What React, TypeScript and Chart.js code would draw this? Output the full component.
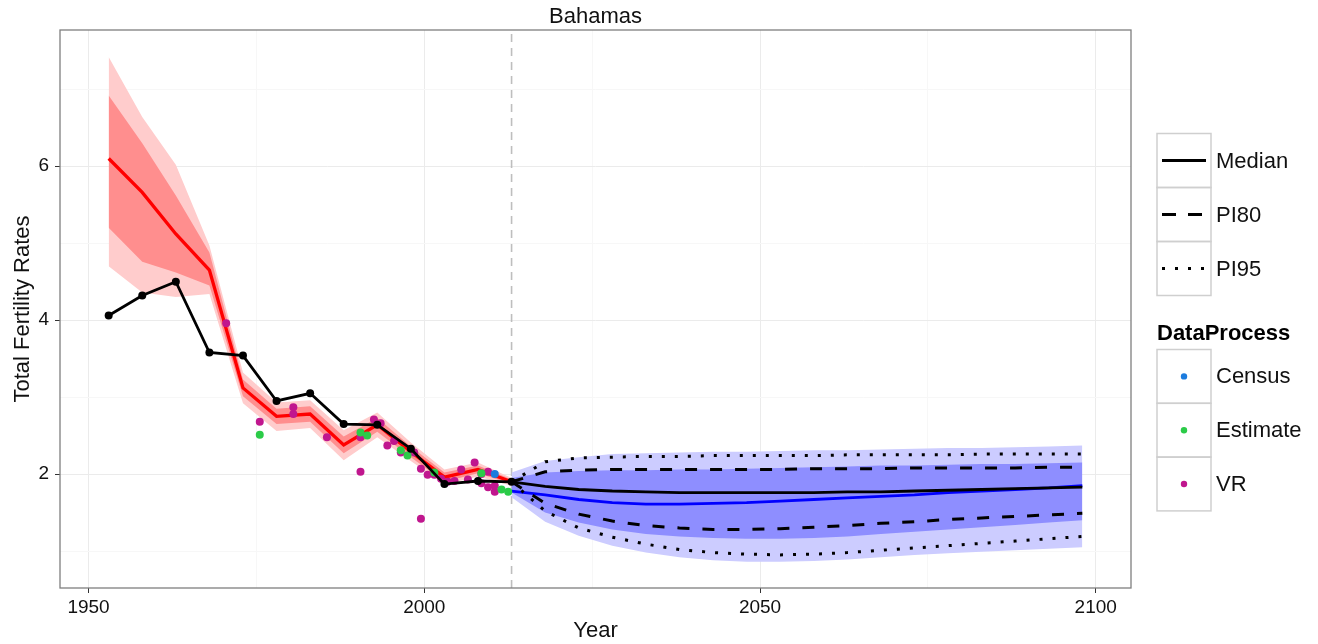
import React, { useEffect, useRef } from "react";
import { Chart, registerables } from "chart.js";

Chart.register(...registerables);

// ---------- data ----------
const TITLE = "Bahamas";
const X_TITLE = "Year";
const Y_TITLE = "Total Fertility Rates";

const X_TICKS = [1950, 1975, 2000, 2025, 2050, 2075, 2100];
const X_MAJOR = [1950, 2000, 2050, 2100];
const Y_TICKS = [1, 2, 3, 4, 5, 6, 7];
const Y_MAJOR = [2, 4, 6];
const X_MIN = 1945.75;
const X_MAX = 2105.25;
const Y_MIN = 0.52;
const Y_MAX = 7.77;
const PRESENT_YEAR = 2013;

const EST_YEARS = [1953, 1958, 1963, 1968, 1973, 1978, 1983, 1988, 1993, 1998, 2003, 2008, 2013];
const OBS_TFR = [4.06, 4.32, 4.5, 3.58, 3.54, 2.95, 3.05, 2.65, 2.64, 2.33, 1.87, 1.91, 1.9];
const RED_MEDIAN = [6.1, 5.66, 5.12, 4.65, 3.12, 2.75, 2.78, 2.38, 2.64, 2.29, 1.96, 2.06, 1.9];
const RED_U95 = [7.42, 6.64, 6.02, 4.97, 3.32, 2.93, 2.96, 2.57, 2.8, 2.41, 2.06, 2.15, 1.95];
const RED_U80 = [6.92, 6.3, 5.62, 4.88, 3.23, 2.85, 2.88, 2.49, 2.73, 2.36, 2.02, 2.11, 1.93];
const RED_L80 = [5.2, 4.76, 4.62, 4.45, 3.01, 2.65, 2.68, 2.27, 2.55, 2.22, 1.9, 2.01, 1.87];
const RED_L95 = [4.7, 4.36, 4.3, 4.34, 2.92, 2.56, 2.6, 2.18, 2.48, 2.17, 1.86, 1.97, 1.85];

const PROJ_YEARS = [2013, 2018, 2023, 2028, 2033, 2038, 2043, 2048, 2053, 2058, 2063, 2068, 2073, 2078, 2083, 2088, 2093, 2098];
const PROJ_MEDIAN = [1.9, 1.84, 1.8, 1.78, 1.77, 1.76, 1.76, 1.76, 1.76, 1.76, 1.77, 1.77, 1.78, 1.79, 1.8, 1.81, 1.82, 1.83];
const PI80_UP = [1.9, 2.03, 2.05, 2.06, 2.06, 2.06, 2.06, 2.06, 2.06, 2.07, 2.07, 2.07, 2.08, 2.08, 2.08, 2.08, 2.09, 2.09];
const PI80_LOW = [1.9, 1.62, 1.48, 1.39, 1.33, 1.3, 1.28, 1.28, 1.29, 1.31, 1.33, 1.36, 1.38, 1.41, 1.43, 1.45, 1.47, 1.49];
const PI95_UP = [1.9, 2.16, 2.21, 2.22, 2.23, 2.23, 2.24, 2.24, 2.24, 2.24, 2.25, 2.25, 2.25, 2.25, 2.26, 2.26, 2.26, 2.26];
const PI95_LOW = [1.9, 1.52, 1.3, 1.18, 1.09, 1.02, 0.98, 0.96, 0.95, 0.96, 0.98, 1.01, 1.04, 1.07, 1.1, 1.13, 1.16, 1.19];
const BLUE_MEDIAN = [1.78, 1.73, 1.67, 1.63, 1.61, 1.61, 1.62, 1.63, 1.65, 1.67, 1.69, 1.71, 1.73, 1.76, 1.78, 1.8, 1.82, 1.85];
const BLUE_U95 = [2.02, 2.17, 2.22, 2.26, 2.27, 2.28, 2.29, 2.29, 2.3, 2.31, 2.31, 2.32, 2.33, 2.34, 2.34, 2.35, 2.36, 2.37];
const BLUE_U80 = [1.95, 2.02, 2.04, 2.05, 2.05, 2.06, 2.06, 2.07, 2.08, 2.09, 2.1, 2.11, 2.11, 2.12, 2.13, 2.13, 2.14, 2.15];
const BLUE_L80 = [1.76, 1.5, 1.37, 1.28, 1.22, 1.19, 1.17, 1.16, 1.16, 1.17, 1.19, 1.22, 1.25, 1.28, 1.31, 1.34, 1.37, 1.4];
const BLUE_L95 = [1.7, 1.38, 1.2, 1.07, 0.98, 0.92, 0.88, 0.86, 0.86, 0.87, 0.89, 0.92, 0.95, 0.97, 0.99, 1.01, 1.03, 1.05];

const CENSUS_YEARS = [2010.5];
const CENSUS_TFR = [2.0];
const ESTIMATE_YEARS = [1975.5, 1990.5, 1991.5, 1996.5, 1997.5, 2001.5, 2008.5, 2011.5, 2012.5];
const ESTIMATE_TFR = [2.51, 2.54, 2.5, 2.31, 2.24, 2.02, 2.01, 1.8, 1.77];
const VR_YEARS = [1970.5, 1975.5, 1980.5, 1980.5, 1985.5, 1990.5, 1990.5, 1992.5, 1993.5, 1994.5, 1995.5, 1996.5, 1998.5, 1999.5, 1999.5, 2000.5, 2001.5, 2002.5, 2003.5, 2004.5, 2005.5, 2006.5, 2007.5, 2008.5, 2008.5, 2009.5, 2009.5, 2010.5, 2010.5];
const VR_TFR = [3.96, 2.68, 2.87, 2.78, 2.48, 2.48, 2.03, 2.71, 2.66, 2.37, 2.43, 2.28, 2.28, 2.07, 1.42, 1.99, 1.99, 1.94, 1.9, 1.91, 2.06, 1.93, 2.15, 1.88, 2.0, 2.03, 1.83, 1.77, 1.85];

const LINE_LEGEND = ["Median", "PI80", "PI95"];
const PROCESS_TITLE = "DataProcess";
const PROCESS_LEGEND = ["Census", "Estimate", "VR"];

// ---------- styles ----------
const FONT = "'Liberation Sans', Arial, Helvetica, sans-serif";
const C_CENSUS = "#1C7CDE";
const C_ESTIMATE = "#2BCB48";
const C_VR = "#C0168E";
const PROCESS_COLORS = [C_CENSUS, C_ESTIMATE, C_VR];
const DOT_DASH = [3, 10];
const DASH_DASH = [12, 13];

const pts = (xs: number[], ys: number[]) => xs.map((x, i) => ({ x, y: ys[i] }));

const lineDs = (data: any[], color: string, width: number, order: number, dash: number[] = []) => ({
  data,
  borderColor: color,
  borderWidth: width,
  borderDash: dash,
  borderCapStyle: "butt",
  pointRadius: 0,
  fill: false,
  tension: 0,
  order,
});

const bandDs = (data: any[], fillColor: string, order: number, fillNext: boolean) => ({
  data,
  borderWidth: 0,
  borderColor: "rgba(0,0,0,0)",
  backgroundColor: fillColor,
  pointRadius: 0,
  fill: fillNext ? "+1" : false,
  tension: 0,
  order,
});

const dotDs = (data: any[], color: string, order: number) => ({
  data,
  showLine: false,
  pointRadius: 4,
  pointBorderWidth: 0,
  pointBackgroundColor: color,
  pointBorderColor: color,
  backgroundColor: color,
  borderColor: color,
  order,
});

const decorPlugin = {
  id: "decor",
  afterDraw(chart: any) {
    const { ctx, chartArea } = chart;
    const { left, right, top, bottom } = chartArea;
    ctx.save();
    // panel border
    ctx.strokeStyle = "#7F7F7F";
    ctx.lineWidth = 1.3;
    ctx.setLineDash([]);
    ctx.strokeRect(left, top, right - left, bottom - top);
    // title
    ctx.fillStyle = "#111";
    ctx.font = `22px ${FONT}`;
    ctx.textAlign = "center";
    ctx.textBaseline = "middle";
    ctx.fillText(TITLE, (left + right) / 2, 17);

    // legend: line types
    const lx = 1157;
    const bw = 54;
    const bh = 54;
    const textX = 1216;
    let y0 = 133.5;
    ctx.textAlign = "left";
    LINE_LEGEND.forEach((label, i) => {
      const by = y0 + i * bh;
      ctx.strokeStyle = "#CFCFCF";
      ctx.lineWidth = 1.5;
      ctx.setLineDash([]);
      ctx.strokeRect(lx, by, bw, bh);
      ctx.strokeStyle = "#000";
      ctx.lineWidth = 3;
      ctx.lineCap = "butt";
      ctx.setLineDash(i === 0 ? [] : i === 1 ? [14, 12] : DOT_DASH);
      ctx.beginPath();
      ctx.moveTo(lx + 5, by + bh / 2);
      ctx.lineTo(lx + bw - 5, by + bh / 2);
      ctx.stroke();
      ctx.setLineDash([]);
      ctx.fillStyle = "#111";
      ctx.font = `22px ${FONT}`;
      ctx.fillText(label, textX, by + bh / 2 + 1);
    });

    // legend: data process
    ctx.fillStyle = "#000";
    ctx.font = `bold 22px ${FONT}`;
    ctx.fillText(PROCESS_TITLE, lx, 334);
    const y1 = 349.5;
    const bh2 = 53.8;
    PROCESS_LEGEND.forEach((label, i) => {
      const by = y1 + i * bh2;
      ctx.strokeStyle = "#CFCFCF";
      ctx.lineWidth = 1.5;
      ctx.strokeRect(lx, by, bw, bh2);
      ctx.fillStyle = PROCESS_COLORS[i];
      ctx.beginPath();
      ctx.arc(lx + bw / 2, by + bh2 / 2, 3.2, 0, Math.PI * 2);
      ctx.fill();
      ctx.fillStyle = "#111";
      ctx.font = `22px ${FONT}`;
      ctx.fillText(label, textX, by + bh2 / 2 + 1);
    });
    ctx.restore();
  },
};

export default function App() {
  const ref = useRef<HTMLCanvasElement | null>(null);

  useEffect(() => {
    if (!ref.current) return;
    Chart.defaults.font.family = FONT;

    const datasets: any[] = [
      // vertical present-year line
      lineDs([{ x: PRESENT_YEAR, y: Y_MIN }, { x: PRESENT_YEAR, y: Y_MAX }], "#BEBEBE", 1.6, 100, [8, 6]),
      // red bands
      bandDs(pts(EST_YEARS, RED_U95), "#FFCCCC", 90, true),
      bandDs(pts(EST_YEARS, RED_L95), "#FFCCCC", 91, false),
      bandDs(pts(EST_YEARS, RED_U80), "#FF8E8E", 80, true),
      bandDs(pts(EST_YEARS, RED_L80), "#FF8E8E", 81, false),
      // blue bands
      bandDs(pts(PROJ_YEARS, BLUE_U95), "#CCCCFF", 70, true),
      bandDs(pts(PROJ_YEARS, BLUE_L95), "#CCCCFF", 71, false),
      bandDs(pts(PROJ_YEARS, BLUE_U80), "#8E8EFF", 60, true),
      bandDs(pts(PROJ_YEARS, BLUE_L80), "#8E8EFF", 61, false),
      // medians
      lineDs(pts(EST_YEARS, RED_MEDIAN), "#FF0000", 3.3, 50),
      lineDs(pts(PROJ_YEARS, BLUE_MEDIAN), "#0000FF", 2.8, 45),
      // PIs
      lineDs(pts(PROJ_YEARS, PI95_UP), "#000", 3, 40, DOT_DASH),
      lineDs(pts(PROJ_YEARS, PI95_LOW), "#000", 3, 40, DOT_DASH),
      lineDs(pts(PROJ_YEARS, PI80_UP), "#000", 3, 35, DASH_DASH),
      lineDs(pts(PROJ_YEARS, PI80_LOW), "#000", 3, 35, DASH_DASH),
      lineDs(pts(PROJ_YEARS, PROJ_MEDIAN), "#000", 2.8, 30),
      // observations
      dotDs(pts(VR_YEARS, VR_TFR), C_VR, 20),
      dotDs(pts(ESTIMATE_YEARS, ESTIMATE_TFR), C_ESTIMATE, 19),
      dotDs(pts(CENSUS_YEARS, CENSUS_TFR), C_CENSUS, 18),
      {
        data: pts(EST_YEARS, OBS_TFR),
        borderColor: "#000",
        borderWidth: 2.8,
        pointRadius: 4,
        pointBorderWidth: 0,
        pointBackgroundColor: "#000",
        fill: false,
        tension: 0,
        order: 10,
      },
    ];

    const chart = new Chart(ref.current, {
      type: "line",
      data: { datasets },
      plugins: [decorPlugin],
      options: {
        animation: false,
        responsive: false,
        devicePixelRatio: 1,
        layout: { padding: { top: 30, right: 187, bottom: 0, left: 0 } },
        plugins: { legend: { display: false }, tooltip: { enabled: false }, title: { display: false } },
        elements: { line: { tension: 0 } },
        scales: {
          x: {
            type: "linear",
            min: X_MIN,
            max: X_MAX,
            afterBuildTicks: (s: any) => {
              s.ticks = X_TICKS.map((v) => ({ value: v }));
            },
            afterFit: (s: any) => {
              s.height = 56;
            },
            ticks: {
              autoSkip: false,
              maxRotation: 0,
              padding: 3,
              color: "#111",
              font: { size: 19, family: FONT },
              callback: (v: any) => (X_MAJOR.includes(Number(v)) ? String(v) : ""),
            },
            grid: {
              lineWidth: 1,
              tickLength: 5,
              color: (c: any) => (X_MAJOR.includes(c.tick?.value) ? "#EBEBEB" : "#F7F7F7"),
              tickColor: (c: any) => (X_MAJOR.includes(c.tick?.value) ? "#333" : "rgba(0,0,0,0)"),
            },
            border: { display: false },
            title: { display: true, text: X_TITLE, color: "#111", font: { size: 22, family: FONT }, padding: { top: 0, bottom: 0 } },
          },
          y: {
            type: "linear",
            min: Y_MIN,
            max: Y_MAX,
            afterBuildTicks: (s: any) => {
              s.ticks = Y_TICKS.map((v) => ({ value: v }));
            },
            afterFit: (s: any) => {
              s.width = 60;
            },
            ticks: {
              padding: 6,
              color: "#111",
              font: { size: 19, family: FONT },
              callback: (v: any) => (Y_MAJOR.includes(Number(v)) ? String(v) : ""),
            },
            grid: {
              lineWidth: 1,
              tickLength: 5,
              color: (c: any) => (Y_MAJOR.includes(c.tick?.value) ? "#EBEBEB" : "#F7F7F7"),
              tickColor: (c: any) => (Y_MAJOR.includes(c.tick?.value) ? "#333" : "rgba(0,0,0,0)"),
            },
            border: { display: false },
            title: { display: true, text: Y_TITLE, color: "#111", font: { size: 22, family: FONT }, padding: { top: 10, bottom: 0 } },
          },
        },
      },
    } as any);

    return () => chart.destroy();
  }, []);

  return (
    <div style={{ position: "fixed", left: 0, top: 0, width: 1318, height: 644, background: "#fff" }}>
      <canvas ref={ref} width={1318} height={644} style={{ display: "block", width: 1318, height: 644 }} />
    </div>
  );
}
